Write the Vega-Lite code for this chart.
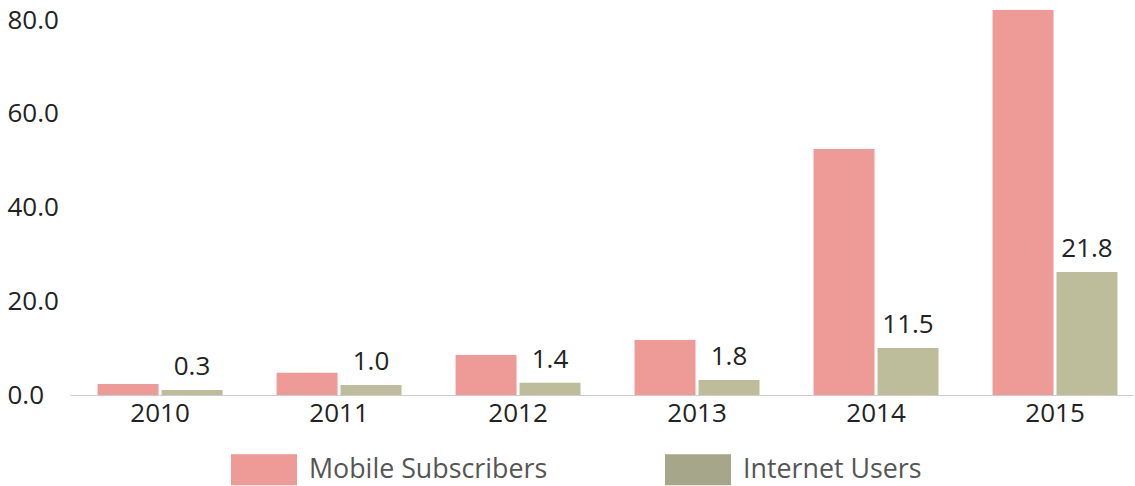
{
  "$schema": "https://vega.github.io/schema/vega-lite/v6.json",
  "width": 1063,
  "height": 395,
  "autosize": {"type": "none"},
  "padding": {"left": 70, "top": 0, "right": 2, "bottom": 91},
  "config": {"font": "Open Sans", "view": {"stroke": null}},
  "data": {
    "values": [
      {"year": "2010", "series": "Mobile Subscribers", "value": 2.35, "label": ""},
      {"year": "2011", "series": "Mobile Subscribers", "value": 4.76, "label": ""},
      {"year": "2012", "series": "Mobile Subscribers", "value": 8.53, "label": ""},
      {"year": "2013", "series": "Mobile Subscribers", "value": 11.73, "label": ""},
      {"year": "2014", "series": "Mobile Subscribers", "value": 52.5, "label": ""},
      {"year": "2015", "series": "Mobile Subscribers", "value": 82.13, "label": ""},
      {"year": "2010", "series": "Internet Users", "value": 1.07, "label": "0.3"},
      {"year": "2011", "series": "Internet Users", "value": 2.13, "label": "1.0"},
      {"year": "2012", "series": "Internet Users", "value": 2.63, "label": "1.4"},
      {"year": "2013", "series": "Internet Users", "value": 3.2, "label": "1.8"},
      {"year": "2014", "series": "Internet Users", "value": 10.03, "label": "11.5"},
      {"year": "2015", "series": "Internet Users", "value": 26.24, "label": "21.8"}
    ]
  },
  "encoding": {
    "x": {
      "field": "year",
      "type": "nominal",
      "title": null,
      "scale": {"paddingInner": 0.302, "paddingOuter": 0.1204, "align": 0.64},
      "axis": {
        "labelAngle": 0,
        "labelFontSize": 26,
        "labelColor": "#222",
        "labelPadding": 5,
        "ticks": false,
        "tickSize": 0,
        "domainColor": "#cccccc",
        "domainWidth": 1,
        "grid": false
      }
    },
    "xOffset": {
      "field": "series",
      "type": "nominal",
      "scale": {"domain": ["Mobile Subscribers", "Internet Users"], "paddingInner": 0.047, "paddingOuter": 0}
    },
    "y": {
      "field": "value",
      "type": "quantitative",
      "title": null,
      "scale": {"domain": [0, 84.27], "nice": false, "zero": true},
      "axis": {
        "values": [0, 20, 40, 60, 80],
        "format": ".1f",
        "domain": false,
        "grid": false,
        "ticks": false,
        "tickSize": 0,
        "labelAlign": "left",
        "labelBaseline": "middle",
        "labelPadding": 63,
        "labelFontSize": 26,
        "labelColor": "#222"
      }
    }
  },
  "resolve": {"scale": {"color": "independent"}, "legend": {"color": "independent"}},
  "layer": [
    {
      "mark": {"type": "bar", "opacity": 0},
      "encoding": {
        "color": {
          "field": "series",
          "type": "nominal",
          "scale": {"domain": ["Mobile Subscribers", "Internet Users"], "range": ["#ee9a97", "#a6a68a"]},
          "legend": {
            "title": null,
            "orient": "none",
            "legendX": 161,
            "legendY": 436.5,
            "direction": "horizontal",
            "symbolType": "M-1,-0.47H1V0.47H-1Z",
            "symbolSize": 4356,
            "symbolStrokeWidth": 0,
            "symbolOpacity": 1,
            "labelFontSize": 26.8,
            "labelColor": "#555555",
            "labelOffset": 12,
            "columnPadding": 117,
            "padding": 0,
            "labelLimit": 0
          }
        }
      }
    },
    {
      "mark": {"type": "bar"},
      "encoding": {
        "color": {
          "field": "series",
          "type": "nominal",
          "scale": {"domain": ["Mobile Subscribers", "Internet Users"], "range": ["#ee9a97", "#bdbc9b"]},
          "legend": null
        }
      }
    },
    {
      "transform": [{"filter": "datum.series === 'Internet Users'"}],
      "mark": {"type": "text", "dy": -15, "baseline": "alphabetic", "align": "center", "fontSize": 26, "color": "#222"},
      "encoding": {"text": {"field": "label"}}
    }
  ]
}
